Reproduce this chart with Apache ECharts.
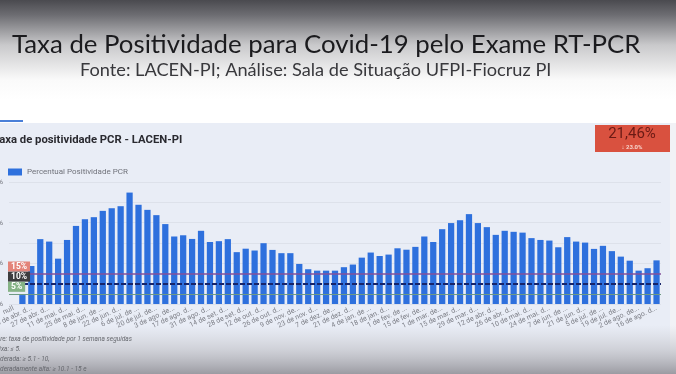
<!DOCTYPE html>
<html>
<head>
<meta charset="utf-8">
<script src="https://cdn.jsdelivr.net/npm/echarts@6/dist/echarts.min.js"></script>
<style>
html,body{margin:0;padding:0;background:#fff;}
#chart{width:676px;height:374px;}
</style>
</head>
<body>
<div id="chart"></div>
<script>
// ---- data ----
var categories = [
  'null',
  '6 de abr. de 2020','13 de abr. de 2020','20 de abr. de 2020','27 de abr. de 2020',
  '4 de mai. de 2020','11 de mai. de 2020','18 de mai. de 2020','25 de mai. de 2020',
  '1 de jun. de 2020','8 de jun. de 2020','15 de jun. de 2020','22 de jun. de 2020','29 de jun. de 2020',
  '6 de jul. de 2020','13 de jul. de 2020','20 de jul. de 2020','27 de jul. de 2020',
  '3 de ago. de 2020','10 de ago. de 2020','17 de ago. de 2020','24 de ago. de 2020','31 de ago. de 2020',
  '7 de set. de 2020','14 de set. de 2020','21 de set. de 2020','28 de set. de 2020',
  '5 de out. de 2020','12 de out. de 2020','19 de out. de 2020','26 de out. de 2020',
  '2 de nov. de 2020','9 de nov. de 2020','16 de nov. de 2020','23 de nov. de 2020','30 de nov. de 2020',
  '7 de dez. de 2020','14 de dez. de 2020','21 de dez. de 2020','28 de dez. de 2020',
  '4 de jan. de 2021','11 de jan. de 2021','18 de jan. de 2021','25 de jan. de 2021',
  '1 de fev. de 2021','8 de fev. de 2021','15 de fev. de 2021','22 de fev. de 2021',
  '1 de mar. de 2021','8 de mar. de 2021','15 de mar. de 2021','22 de mar. de 2021','29 de mar. de 2021',
  '5 de abr. de 2021','12 de abr. de 2021','19 de abr. de 2021','26 de abr. de 2021',
  '3 de mai. de 2021','10 de mai. de 2021','17 de mai. de 2021','24 de mai. de 2021','31 de mai. de 2021',
  '7 de jun. de 2021','14 de jun. de 2021','21 de jun. de 2021','28 de jun. de 2021',
  '5 de jul. de 2021','12 de jul. de 2021','19 de jul. de 2021','26 de jul. de 2021',
  '2 de ago. de 2021','9 de ago. de 2021','16 de ago. de 2021'
];
var positividade = [
  null,
  4.4, 18.7, 31.9, 30.7, 22.3, 31.5, 38.4, 41.7, 42.7, 45.8,
  47.1, 48.1, 54.8, 48.8, 46.3, 43.7, 39.3, 33.2, 33.8, 32.0,
  36.0, 30.5, 30.9, 31.9, 25.5, 27.2, 26.3, 29.9, 26.6, 25.0,
  25.0, 19.7, 17.1, 16.4, 16.4, 16.4, 18.1, 19.4, 22.8, 25.3,
  23.6, 24.3, 27.4, 26.7, 28.1, 33.2, 30.5, 36.8, 39.8, 41.2,
  44.2, 39.8, 37.8, 34.0, 36.0, 35.5, 35.1, 32.4, 31.5, 31.2,
  27.9, 32.9, 30.7, 30.2, 27.1, 28.6, 26.0, 23.3, 21.3, 16.4,
  17.6, 21.46
];
var thresholds = [15, 10, 5];
var thresholdLabels = ['15%', '10%', '5%'];
var scoreValue = '21,46%';
var scoreDelta = '\u2193 23.0%';
var footnotes = [
  'Indicadore: taxa de positividade por 1 semana seguidas',
  'Baixa: \u2264 5.',
  'Moderada: \u2265 5.1 - 10,',
  'Moderadamente alta: \u2265 10.1 - 15 e'
];

var chart = echarts.init(document.getElementById('chart'), null, {renderer: 'canvas'});

var lineStyles = [
  {color: '#84509a', width: 1.5, type: 'solid'},
  {color: '#17246a', width: 2, type: [5, 2]},
  {color: '#6f9a84', width: 1, type: 'solid'}
];
var badgeColors = ['#e3847a', '#3d3d3f', '#86b386'];

var markData = thresholds.map(function (v, i) {
  return {
    yAxis: v,
    lineStyle: lineStyles[i],
    label: {
      show: true,
      position: 'insideStartTop',
      formatter: thresholdLabels[i],
      backgroundColor: badgeColors[i],
      color: '#ffffff',
      fontSize: 8.5,
      fontWeight: 'bold',
      fontFamily: 'Roboto',
      padding: [1, 3, 0, 3],
      distance: [-1, 2]
    }
  };
});

var footX = [-24, -8, -9, -9];
var footGraphics = footnotes.map(function (t, i) {
  return {
    type: 'text', z: 10,
    x: footX[i], y: 336 + i * 10,
    style: {text: t, fontSize: 6.5, fontStyle: 'italic', fill: '#66686e', fontFamily: 'Roboto'}
  };
});

var option = {
  animation: false,
  graphic: [
    {type: 'rect', z: -100, shape: {x: 0, y: 0, width: 676, height: 374}, style: {fill: '#ffffff'}},
    {type: 'rect', z: -99, shape: {x: 0, y: 0, width: 676, height: 100},
      style: {fill: new echarts.graphic.LinearGradient(0, 0, 0, 1, [
        {offset: 0, color: '#4a4a4f'},
        {offset: 0.15, color: '#6d6d72'},
        {offset: 0.45, color: '#c9c9cb'},
        {offset: 0.8, color: '#fafafa'},
        {offset: 1, color: '#ffffff'}
      ])}},
    {type: 'rect', z: -98, shape: {x: 0, y: 123, width: 670, height: 251}, style: {fill: '#e9edf6'}},
    {type: 'rect', z: -98, shape: {x: 670, y: 123, width: 6, height: 251}, style: {fill: '#f1f2f6'}},
    {type: 'rect', z: -97, shape: {x: 0, y: 325, width: 676, height: 49},
      style: {fill: new echarts.graphic.LinearGradient(0, 0, 0, 1, [
        {offset: 0, color: 'rgba(200,200,205,0)'},
        {offset: 0.5, color: 'rgba(190,190,196,0.6)'},
        {offset: 1, color: 'rgba(155,155,162,1)'}
      ])}},
    {type: 'rect', z: -90, shape: {x: 0, y: 120, width: 23, height: 2}, style: {fill: '#4a7fd8'}},
    {type: 'rect', z: -90, shape: {x: 595, y: 125, width: 75, height: 27}, style: {fill: '#d9513f'}}
  ].concat(footGraphics),
  title: [
    {text: 'Taxa de Positividade para Covid-19 pelo Exame RT-PCR', left: 7, top: 27,
      textStyle: {fontFamily: 'Lato', fontSize: 25.8, fontWeight: 'normal', color: '#1b1b1e'}},
    {text: 'Fonte: LACEN-PI; Análise: Sala de Situação UFPI-Fiocruz PI', left: 75, top: 56,
      textStyle: {fontFamily: 'Lato', fontSize: 18.2, fontWeight: 'normal', color: '#38383c'}},
    {text: 'Taxa de positividade PCR - LACEN-PI', left: -12, top: 130,
      textStyle: {fontFamily: 'Roboto', fontSize: 11.3, fontWeight: 'bold', color: '#2a2a30'}},
    {text: scoreValue, left: 632, top: 127, textAlign: 'center', padding: 0,
      textStyle: {fontFamily: 'Roboto', fontSize: 15, fontWeight: 'normal', color: '#6a1a14'}},
    {text: scoreDelta, left: 632, top: 144, textAlign: 'center', padding: 0,
      textStyle: {fontFamily: 'Roboto', fontSize: 6, fontWeight: 'bold', color: '#f7d4cc'}}
  ],
  legend: {
    left: 3, top: 163, icon: 'rect', itemWidth: 14, itemHeight: 7, itemGap: 6,
    textStyle: {fontSize: 8, color: '#70727a', fontFamily: 'Roboto'},
    data: ['Percentual Positividade PCR']
  },
  grid: {left: 9, right: 15, top: 182, bottom: 70, outerBoundsMode: 'none'},
  xAxis: {
    type: 'category',
    data: categories,
    axisLine: {show: false},
    axisTick: {show: false},
    axisLabel: {
      interval: 1, rotate: 25, fontSize: 7, color: '#7c7e86', fontFamily: 'Roboto',
      margin: 4, width: 46, overflow: 'truncate', ellipsis: '...'
    }
  },
  yAxis: {
    type: 'value', min: 0, max: 60, interval: 10,
    axisLine: {show: false}, axisTick: {show: false},
    splitLine: {lineStyle: {color: '#dde1ea', width: 1}},
    axisLabel: {
      margin: 6, fontSize: 8, color: '#6a6c74', fontFamily: 'Roboto',
      formatter: function (v) { return (v % 20 === 0) ? v + '%' : ''; }
    }
  },
  series: [{
    name: 'Percentual Positividade PCR',
    type: 'bar',
    data: positividade,
    barCategoryGap: '30%',
    itemStyle: {color: '#2e70dd'},
    markLine: {
      silent: true,
      symbol: ['none', 'none'],
      z: 10,
      data: markData
    }
  }]
};
chart.setOption(option);
</script>
</body>
</html>
